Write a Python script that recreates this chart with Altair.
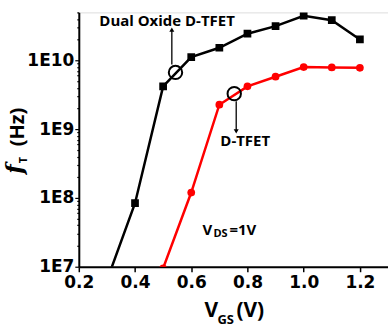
import altair as alt
import pandas as pd

# ---- data ----
vgs = [0.3, 0.4, 0.5, 0.6, 0.7, 0.8, 0.9, 1.0, 1.1, 1.2]
ft_dual = [6.3e6, 8.4e7, 4.2e9, 1.12e10, 1.53e10, 2.45e10, 3.15e10, 4.47e10, 3.85e10, 2.02e10]
vgs_d = [0.5, 0.6, 0.7, 0.8, 0.9, 1.0, 1.1, 1.2]
ft_dtfet = [9.5e6, 1.2e8, 2.27e9, 4.2e9, 5.8e9, 8.0e9, 7.9e9, 7.8e9]
series = ["Dual Oxide D-TFET", "D-TFET"]
colors = ["#000000", "#ff0000"]
shapes = ["square", "circle"]

x_ticks = [0.2, 0.3, 0.4, 0.5, 0.6, 0.7, 0.8, 0.9, 1.0, 1.1, 1.2]
y_ticks = [m * 10 ** d for d in range(7, 10) for m in range(1, 10)] + [1e10, 2e10, 3e10, 4e10, 5e10]

# annotation circles / arrows / labels
circ_x = [0.544, 0.753]
circ_y = [6.7e9, 3.29e9]
arrow_x = [0.531, 0.760]
arrow_from = [8.7e9, 2.54e9]
arrow_to = [2.8e10, 9.3e8]
arrow_shape = ["triangle-up", "triangle-down"]
label_text = ["Dual Oxide D-TFET", "D-TFET"]
label_x = [0.514, 0.792]
label_y = [3.69e10, 6.67e8]
vds_x = [0.64]
vds_y = [3.4e7]

df = pd.DataFrame(
    {"vgs": vgs + vgs_d,
     "ft": ft_dual + ft_dtfet,
     "series": [series[0]] * len(vgs) + [series[1]] * len(vgs_d)}
)

FONT = "Open Sans"
TFONT = "DejaVu Sans"
xs = alt.Scale(domain=[0.2, 1.3], nice=False, zero=False)
ys = alt.Scale(type="log", domain=[1e7, 5e10], nice=False)

x_axis = alt.Axis(
    values=x_ticks, title=None, grid=False,
    labelExpr="round(datum.value*10) % 2 == 1 ? '' : format(datum.value, '.1f')",
    labelFont=TFONT, labelFontSize=17, labelFontWeight="bold", labelColor="black",
    domainColor="black", domainWidth=2, tickColor="black", tickWidth=1.5,
    tickSize={"condition": {"test": "round(datum.value*10) % 2 == 1", "value": 3}, "value": 5},
    labelPadding=3, labelFlush=False, labelOverlap=False,
)
y_axis = alt.Axis(
    values=y_ticks, title=None, grid=False,
    labelExpr="abs(log(datum.value)/LN10 - round(log(datum.value)/LN10)) < 1e-6 ? '1E' + round(log(datum.value)/LN10) : ''",
    labelFont=TFONT, labelFontSize=17, labelFontWeight="bold", labelColor="black",
    domainColor="black", domainWidth=2, tickColor="black", tickWidth=1.2,
    tickSize={"condition": {"test": "abs(log(datum.value)/LN10 - round(log(datum.value)/LN10)) < 1e-6", "value": 4}, "value": 2},
    labelPadding=1, labelFlush=False, labelOverlap=False,
)

color = alt.Color("series:N", scale=alt.Scale(domain=series, range=colors), legend=None)
shape = alt.Shape("series:N", scale=alt.Scale(domain=series, range=shapes), legend=None)

base = alt.Chart(df).encode(
    x=alt.X("vgs:Q", scale=xs, axis=x_axis),
    y=alt.Y("ft:Q", scale=ys, axis=y_axis),
    color=color,
)
lines = base.mark_line(strokeWidth=2.5, clip=True)
pts = base.mark_point(filled=True, size=60, opacity=1, clip=True).encode(shape=shape)

ann = pd.DataFrame({"cx": circ_x, "cy": circ_y, "ax": arrow_x, "a1": arrow_from,
                    "a2": arrow_to, "ash": arrow_shape, "lt": label_text,
                    "lx": label_x, "ly": label_y})
circles = alt.Chart(ann).mark_point(shape="circle", filled=False, size=180,
                                    stroke="black", strokeWidth=2, opacity=1).encode(
    x=alt.X("cx:Q", scale=xs), y=alt.Y("cy:Q", scale=ys))
rules = alt.Chart(ann).mark_rule(color="black", strokeWidth=1.3).encode(
    x=alt.X("ax:Q", scale=xs), y=alt.Y("a1:Q", scale=ys), y2="a2:Q")
heads = alt.Chart(ann).mark_point(filled=True, size=25, color="black", opacity=1).encode(
    x=alt.X("ax:Q", scale=xs), y=alt.Y("a2:Q", scale=ys),
    shape=alt.Shape("ash:N", scale=None))
labels = alt.Chart(ann).mark_text(font=FONT, fontSize=15, fontWeight="bold", color="black").encode(
    x=alt.X("lx:Q", scale=xs), y=alt.Y("ly:Q", scale=ys), text="lt:N")

vds = pd.DataFrame({"x": vds_x, "y": vds_y})
vds_base = alt.Chart(vds).encode(x=alt.X("x:Q", scale=xs), y=alt.Y("y:Q", scale=ys))
vds_v = vds_base.mark_text(text="V", font=FONT, fontSize=15, fontWeight="bold",
                           align="left", baseline="middle", color="black")
vds_sub = vds_base.mark_text(text="DS", font=FONT, fontSize=11, fontWeight="bold",
                             align="left", baseline="middle", dx=11, dy=4, color="black")
vds_rest = vds_base.mark_text(text="=1V", font=FONT, fontSize=15, fontWeight="bold",
                              align="left", baseline="middle", dx=27, color="black")

# axis titles built from text pieces
tdf = pd.DataFrame({"k": [0]})
tb = alt.Chart(tdf)
yt_hz = tb.mark_text(text="(Hz)", font=FONT, fontSize=20, fontWeight="bold", angle=270,
                     baseline="middle", align="center", color="black").encode(
    x=alt.value(-61), y=alt.value(115))
yt_f = tb.mark_text(text="f", font="DejaVu Serif", fontSize=22, fontWeight="bold", fontStyle="italic",
                    angle=270, baseline="middle", align="center", color="black").encode(
    x=alt.value(-64), y=alt.value(157))
yt_t = tb.mark_text(text="T", font=FONT, fontSize=11, fontWeight="bold", angle=270,
                    baseline="middle", align="center", color="black").encode(
    x=alt.value(-55), y=alt.value(148))
xt_v = tb.mark_text(text="V", font=FONT, fontSize=21, fontWeight="bold",
                    baseline="alphabetic", align="left", color="black").encode(
    x=alt.value(126), y=alt.value(305))
xt_gs = tb.mark_text(text="GS", font=FONT, fontSize=13, fontWeight="bold",
                     baseline="alphabetic", align="left", color="black").encode(
    x=alt.value(139), y=alt.value(312))
xt_u = tb.mark_text(text="(V)", font=FONT, fontSize=21, fontWeight="bold",
                    baseline="alphabetic", align="left", color="black").encode(
    x=alt.value(158), y=alt.value(305))

chart = alt.layer(
    lines, pts, circles, rules, heads, labels, vds_v, vds_sub, vds_rest,
    yt_hz, yt_f, yt_t, xt_v, xt_gs, xt_u,
).properties(
    width=310, height=255,
    autosize=alt.AutoSizeParams(type="none"),
    padding={"left": 79, "top": 12, "right": 0, "bottom": 57},
).configure_view(stroke=None).configure(background="white")

chart.save("out.html", embed_options={"renderer": "svg", "actions": False})
